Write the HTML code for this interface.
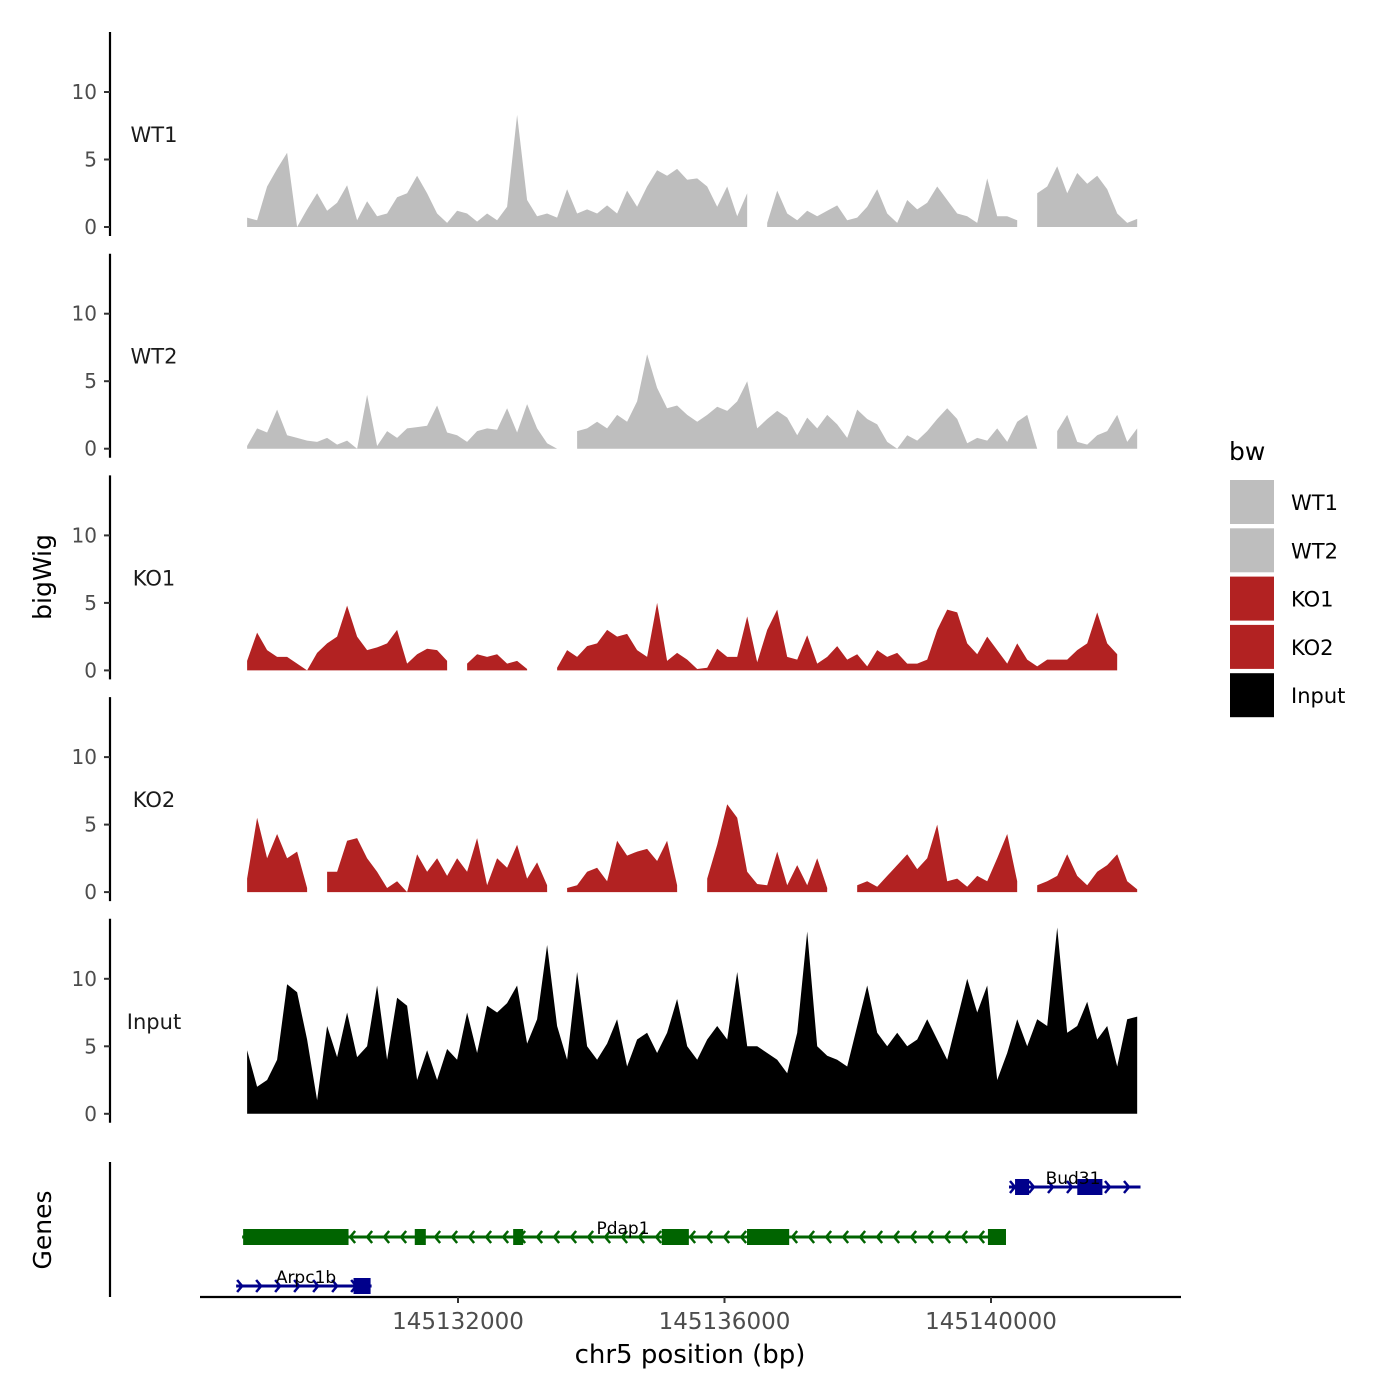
<!DOCTYPE html>
<html><head><meta charset="utf-8"><style>
html,body{margin:0;padding:0;background:#fff}
svg{display:block;font-family:"DejaVu Sans","Liberation Sans",sans-serif}
</style></head><body>
<svg id="chart" width="1400" height="1400" viewBox="0 0 1400 1400" xmlns="http://www.w3.org/2000/svg">
<rect width="1400" height="1400" fill="#fff"/>
<g id="tracks"></g>
<g id="genes"></g>
<g id="legend">
<text x="1229" y="460" font-size="25" fill="#000">bw</text>
</g>
<text transform="translate(51,577) rotate(-90)" text-anchor="middle" font-size="25">bigWig</text>
<text transform="translate(51,1230) rotate(-90)" text-anchor="middle" font-size="25">Genes</text>
<text x="690" y="1363" text-anchor="middle" font-size="26">chr5 position (bp)</text>
</svg>
<script>
const trackNames = ["WT1","WT2","KO1","KO2","Input"];
const trackColors = ["#bebebe","#bebebe","#b22222","#b22222","#000000"];
const binStart = 145128835;
const binWidth = 150.1;
const wt1 = [0.7,0.5,3,4.3,5.5,0,1.3,2.5,1.2,1.8,3.1,0.5,1.9,0.8,1.0,2.2,2.5,3.8,2.5,1.0,0.3,1.2,1.0,0.4,1.0,0.5,1.5,8.3,2.0,0.8,1.0,0.7,2.8,1.0,1.3,1.0,1.6,1.0,2.7,1.5,3.0,4.2,3.8,4.3,3.5,3.6,3.0,1.5,3.0,0.8,2.5,null,0.3,2.7,1.0,0.5,1.2,0.8,1.2,1.6,0.5,0.7,1.5,2.8,1.0,0.3,2.0,1.3,1.8,3.0,2.0,1.0,0.8,0.3,3.6,0.8,0.8,0.5,null,2.5,3.0,4.5,2.5,4.0,3.2,3.8,2.8,1.0,0.3,0.6];
const wt2 = [0.2,1.5,1.2,2.9,1.0,0.8,0.6,0.5,0.8,0.3,0.6,0,4.0,0.2,1.3,0.8,1.5,1.6,1.7,3.2,1.2,1.0,0.5,1.3,1.5,1.4,3.0,1.2,3.3,1.5,0.4,0,null,1.3,1.5,2.0,1.5,2.5,2.0,3.5,7.0,4.5,3.0,3.2,2.5,2.0,2.5,3.1,2.8,3.5,5.0,1.5,2.2,2.8,2.3,1.0,2.3,1.5,2.5,1.8,0.8,2.9,2.2,1.8,0.5,0,1.0,0.6,1.3,2.2,3.0,2.2,0.4,0.8,0.6,1.5,0.5,2.0,2.5,0,null,1.3,2.5,0.5,0.3,1.0,1.3,2.5,0.5,1.5];
const ko1 = [0.7,2.8,1.5,1.0,1.0,0.5,0,1.3,2.0,2.5,4.8,2.5,1.5,1.7,2.0,3.0,0.5,1.2,1.6,1.5,0.7,null,0.5,1.2,1.0,1.2,0.5,0.7,0.1,null,null,0.2,1.5,1.0,1.8,2.0,3.0,2.5,2.7,1.5,1.0,5.0,0.7,1.3,0.8,0.1,0.2,1.6,1.0,1.0,4.0,0.6,3.0,4.5,1.0,0.8,2.6,0.5,1.0,1.8,0.8,1.2,0.3,1.5,1.0,1.3,0.5,0.5,0.8,3.0,4.5,4.3,2.0,1.2,2.5,1.5,0.5,2.0,0.8,0.3,0.8,0.8,0.8,1.5,2.0,4.3,2.0,1.2,null,0.2];
const ko2 = [1.0,5.5,2.5,4.3,2.5,3.0,0.3,null,1.5,1.5,3.8,4.0,2.5,1.5,0.3,0.8,0,2.8,1.5,2.5,1.2,2.5,1.5,4.0,0.5,2.5,1.8,3.5,1.0,2.2,0.5,null,0.3,0.5,1.5,1.8,0.8,3.8,2.7,3.0,3.2,2.3,3.8,0.5,null,null,1.0,3.5,6.5,5.5,1.5,0.6,0.5,3.0,0.5,2.0,0.5,2.5,0.3,null,null,0.5,0.8,0.4,1.2,2.0,2.8,1.7,2.5,5.0,0.8,1.0,0.4,1.2,0.8,2.5,4.3,0.8,null,0.5,0.8,1.2,2.8,1.2,0.5,1.5,2.0,2.8,0.8,0.2];
const input = [4.7,2.0,2.5,4.0,9.6,9.0,5.5,1.0,6.5,4.2,7.5,4.2,5.0,9.5,4.0,8.6,8.0,2.5,4.7,2.5,4.8,4.0,7.5,4.5,8.0,7.5,8.2,9.5,5.2,7.0,12.5,6.5,4.0,10.5,5.0,4.0,5.2,7.0,3.5,5.5,6.0,4.5,6.0,8.5,5.0,4.0,5.5,6.5,5.5,10.5,5.0,5.0,4.5,4.0,3.0,6.0,13.5,5.0,4.3,4.0,3.5,6.5,9.5,6.0,5.0,6.0,5.0,5.5,7.0,5.5,4.0,7.0,10.0,7.5,9.5,2.5,4.5,7.0,5.0,7.0,6.5,13.8,6.0,6.5,8.3,5.5,6.5,3.5,7.0,7.2];
const trackValues = [wt1,wt2,ko1,ko2,input];
const yTicks = [0,5,10];
const xTicks = [145132000,145136000,145140000];
const xTickLabels = ["145132000","145136000","145140000"];
const geneNames = ["Bud31","Pdap1","Arpc1b"];
const geneStrand = [1,-1,1];
const geneStart = [145140270,145128760,145128670];
const geneEnd = [145142244,145140225,145130703];
const geneColors = ["#00008b","#006400","#00008b"];
const exonGene = [0,0,1,1,1,1,1,1,2];
const exonStart = [145140361,145141295,145128775,145131351,145132828,145135058,145136338,145139954,145130432];
const exonEnd = [145140572,145141672,145130357,145131517,145132978,145135465,145136971,145140225,145130688];

const NS="http://www.w3.org/2000/svg";
function el(tag,attrs,parent){const e=document.createElementNS(NS,tag);for(const k in attrs)e.setAttribute(k,attrs[k]);parent.appendChild(e);return e;}
function xScale(bp){return 458+(bp-145132000)*266.5/4000;}
const panelStep=221.7, base0=227, pxPerUnit=13.5;
function yScale(p,v){return base0+p*panelStep - v*pxPerUnit;}
const tracks=document.getElementById('tracks');
trackNames.forEach((name,p)=>{
  const g=el('g',{},tracks);
  
  
  const vals=trackValues[p];
  let seg=[];
  const segs=[];
  vals.forEach((v,i)=>{ if(v===null){ if(seg.length)segs.push(seg); seg=[]; } else seg.push(i); });
  if(seg.length)segs.push(seg);
  segs.forEach(s=>{
    const b=yScale(p,0);
    let d='M'+xScale(binStart+s[0]*binWidth)+','+b;
    s.forEach(i=>{d+=' L'+xScale(binStart+i*binWidth).toFixed(1)+','+yScale(p,vals[i]).toFixed(1);});
    d+=' L'+xScale(binStart+s[s.length-1]*binWidth)+','+b+' Z';
    const a=el('path',{d:d,fill:trackColors[p]},g);
    
    
  });
  const ax=el('line',{x1:110,x2:110,y1:yScale(p,0)-195,y2:yScale(p,0)+9,stroke:'#000','stroke-width':2.2},g);
  
  
  yTicks.forEach(t=>{
    const y=yScale(p,t);
    el('line',{x1:104,x2:110,y1:y,y2:y,stroke:'#333','stroke-width':2},g);
    const tx=el('text',{x:97,y:y+7,'text-anchor':'end','font-size':20,fill:'#4d4d4d'},g);
    tx.textContent=t;
    
    
  });
  const lb=el('text',{x:154,y:yScale(p,0)-85,'text-anchor':'middle','font-size':21,fill:'#1a1a1a'},g);
  lb.textContent=name;
  
  
});
const gg=document.getElementById('genes');
const gax=el('line',{x1:110,x2:110,y1:1162,y2:1297,stroke:'#000','stroke-width':2.2},gg);


const xax=el('line',{x1:200,x2:1181,y1:1297,y2:1297,stroke:'#000','stroke-width':2.2},gg);


xTicks.forEach((t,i)=>{
  const x=xScale(t);
  el('line',{x1:x,x2:x,y1:1297,y2:1303,stroke:'#333','stroke-width':2},gg);
  const tx=el('text',{x:x,y:1329,'text-anchor':'middle','font-size':23,fill:'#4d4d4d'},gg);
  tx.textContent=xTickLabels[i];
  
  
});
const geneY=[1187,1237,1286];
geneNames.forEach((n,gi)=>{
  const g=el('g',{},gg);
  
  
  const y=geneY[gi], c=geneColors[gi];
  const x1=xScale(geneStart[gi]), x2=xScale(geneEnd[gi]);
  el('line',{x1:x1,x2:x2,y1:y,y2:y,stroke:c,'stroke-width':3},g);
  const sp=gi===1?17:19;
  for(let x=x1+6;x<=x2;x+=sp){
    const d=geneStrand[gi]>0?`M${x-5},${y-6} L${x},${y} L${x-5},${y+6}`:`M${x+5},${y-6} L${x},${y} L${x+5},${y+6}`;
    el('path',{d:d,stroke:c,'stroke-width':2.5,fill:'none'},g);
  }
  exonGene.forEach((eg,ei)=>{ if(eg!==gi)return;
    const r=el('rect',{x:xScale(exonStart[ei]),y:y-8,width:xScale(exonEnd[ei])-xScale(exonStart[ei]),height:16,fill:c},g);
    
    
  });
  const tx=el('text',{x:gi===0?1073:(gi===1?623:306),y:y-3,'text-anchor':'middle','font-size':17,fill:'#000'},g);
  tx.textContent=n;
  
  
});
const lg=document.getElementById('legend');
trackNames.forEach((n,i)=>{
  const y=480+i*48.3;
  const r=el('rect',{x:1230,y:y,width:44,height:44,fill:trackColors[i]},lg);
  
  
  const t=el('text',{x:1291,y:y+30,'font-size':21,fill:'#000'},lg);
  t.textContent=n;
  
  
});
</script>
</body></html>
